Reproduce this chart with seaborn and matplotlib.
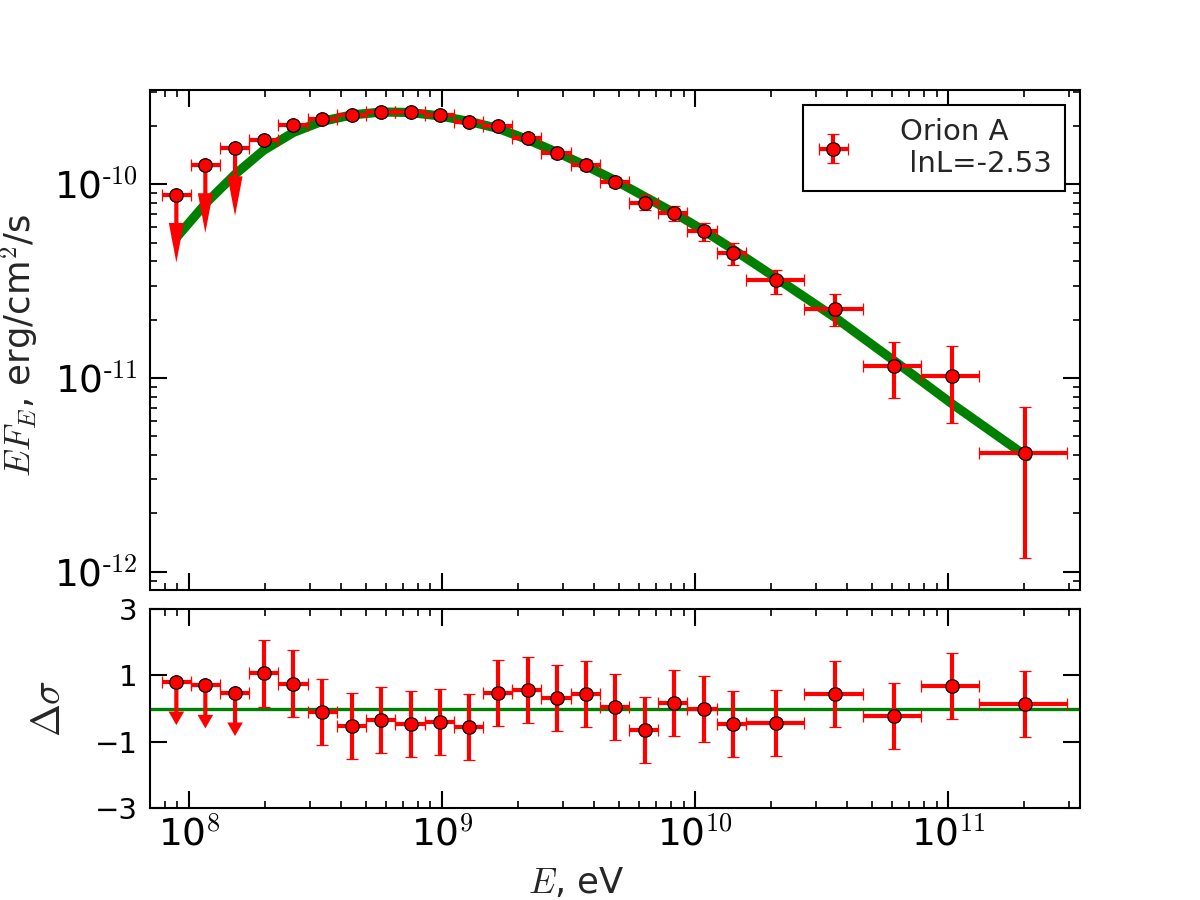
import numpy as np
import pandas as pd
import matplotlib
matplotlib.use("Agg")
import matplotlib.pyplot as plt
import seaborn as sns
from matplotlib.ticker import LogLocator, FixedLocator, NullFormatter, FuncFormatter

# --- data ---
E = [8.91e7, 1.16e8, 1.52e8, 1.97e8, 2.58e8, 3.36e8, 4.41e8, 5.75e8, 7.52e8, 9.82e8,
     1.28e9, 1.67e9, 2.18e9, 2.85e9, 3.71e9, 4.83e9, 6.31e9, 8.24e9, 1.08e10, 1.41e10,
     2.09e10, 3.57e10, 6.09e10, 1.04e11, 2.02e11]
bin_edges = [7.80e7, 1.017e8, 1.327e8, 1.731e8, 2.257e8, 2.944e8, 3.840e8, 5.009e8, 6.534e8,
             8.523e8, 1.112e9, 1.450e9, 1.891e9, 2.467e9, 3.218e9, 4.198e9, 5.475e9, 7.142e9,
             9.316e9, 1.215e10, 1.585e10, 2.685e10, 4.592e10, 7.780e10, 1.327e11, 2.958e11]
flux = [8.85e-11, 1.26e-10, 1.54e-10, 1.69e-10, 2.02e-10, 2.17e-10, 2.27e-10, 2.36e-10, 2.35e-10,
        2.28e-10, 2.09e-10, 1.99e-10, 1.73e-10, 1.45e-10, 1.26e-10, 1.03e-10, 8.05e-11, 7.11e-11,
        5.73e-11, 4.43e-11, 3.19e-11, 2.26e-11, 1.16e-11, 1.03e-11, 4.12e-12]
flux_lo = [np.nan, np.nan, np.nan, 1.62e-10, 1.94e-10, 2.08e-10, 2.18e-10, 2.26e-10, 2.25e-10,
           2.19e-10, 1.99e-10, 1.90e-10, 1.65e-10, 1.37e-10, 1.19e-10, 0.967e-10, 7.34e-11, 6.43e-11,
           5.11e-11, 3.82e-11, 2.73e-11, 1.85e-11, 7.89e-12, 5.89e-12, 1.17e-12]
flux_hi = [np.nan, np.nan, np.nan, 1.76e-10, 2.10e-10, 2.26e-10, 2.37e-10, 2.46e-10, 2.45e-10,
           2.38e-10, 2.19e-10, 2.09e-10, 1.81e-10, 1.53e-10, 1.33e-10, 1.097e-10, 8.77e-11, 7.76e-11,
           6.32e-11, 4.98e-11, 3.63e-11, 2.70e-11, 1.53e-11, 1.47e-11, 7.06e-12]
upper_limit = [True, True, True] + [False] * 22
resid = [0.80, 0.70, 0.47, 1.06, 0.75, -0.11, -0.52, -0.34, -0.46, -0.41, -0.56, 0.46, 0.55,
         0.32, 0.44, 0.05, -0.65, 0.16, -0.02, -0.47, -0.44, 0.44, -0.22, 0.68, 0.14]
resid_err = [1.0] * 25

model_E = [8.9e7, 1.175e8, 1.52e8, 1.967e8, 2.584e8, 3.346e8, 4.397e8, 5.778e8, 7.47e8, 9.82e8,
           1.279e9, 1.665e9, 2.168e9, 2.848e9, 3.709e9, 4.83e9, 6.288e9, 8.26e9, 1.076e10,
           1.400e10, 2.109e10, 3.577e10, 6.064e10, 1.037e11, 2.053e11]
model_F = [5.30e-11, 8.08e-11, 1.126e-10, 1.496e-10, 1.853e-10, 2.113e-10, 2.282e-10, 2.364e-10,
           2.350e-10, 2.255e-10, 2.113e-10, 1.944e-10, 1.706e-10, 1.462e-10, 1.246e-10, 1.048e-10,
           8.67e-11, 7.13e-11, 5.79e-11, 4.65e-11, 3.26e-11, 2.05e-11, 1.238e-11, 7.35e-12, 3.92e-12]

legend_label = "Orion A\n lnL=-2.53"

df = pd.DataFrame({"E": E, "lo": bin_edges[:-1], "hi": bin_edges[1:], "F": flux,
                   "Flo": flux_lo, "Fhi": flux_hi, "ul": upper_limit,
                   "res": resid, "rerr": resid_err})
df["xm"] = df["E"] - df["lo"]
df["xp"] = df["hi"] - df["E"]
det = df[~df["ul"]]
ul = df[df["ul"]]

sns.set_style("ticks")
plt.rcParams["font.family"] = ["DejaVu Sans"]
plt.rcParams["mathtext.fontset"] = "cm"


def pow10(v, pos):
    n = int(round(np.log10(v)))
    return r"$\mathdefault{10^{\text{%d}}}$" % n


fig = plt.figure(figsize=(8, 6), dpi=150)
ax1 = fig.add_axes([0.125, 0.3444, 0.775, 0.5556])
ax2 = fig.add_axes([0.125, 0.1022, 0.775, 0.2211], sharex=ax1)

eb = dict(fmt="o", color="red", ecolor="red", mfc="red", mec="black", mew=0.6, ms=6.5,
          elinewidth=2.0, capsize=3, capthick=0.9)

# top panel
ax1.set_xscale("log")
ax1.set_yscale("log")
sns.lineplot(x=model_E, y=model_F, ax=ax1, color="green", lw=4.4, zorder=1)
ax1.errorbar(det["E"], det["F"], xerr=[det["xm"], det["xp"]],
             yerr=[det["F"] - det["Flo"], det["Fhi"] - det["F"]], label=legend_label, zorder=3, **eb)
ax1.errorbar(ul["E"], ul["F"], xerr=[ul["xm"], ul["xp"]], zorder=3, **eb)
for x, y in zip(ul["E"], ul["F"]):
    ax1.annotate("", xy=(x, y * 0.446), xytext=(x, y), zorder=2,
                 arrowprops=dict(facecolor="red", edgecolor="red", lw=0, width=2.0,
                                 headwidth=7.2, headlength=19, shrink=0))
ax1.set_xlim(7.01e7, 3.32e11)
ax1.set_ylim(8.04e-13, 3.07e-10)
ax1.yaxis.set_major_formatter(FuncFormatter(pow10))
ax1.set_ylabel("$EF_E$, erg/cm$^2$/s", fontsize=17)
ax1.yaxis.set_label_coords(-0.118, 0.49)
leg = ax1.legend(loc="upper right", fontsize=14, handlelength=1.2, handletextpad=1.7,
                 borderpad=0.45, fancybox=False, framealpha=1, edgecolor="black",
                 borderaxespad=0.5)
leg.get_frame().set_linewidth(1.0)

# bottom panel
ax2.axhline(0, color="green", lw=1.6, zorder=1)
ax2.errorbar(det["E"], det["res"], xerr=[det["xm"], det["xp"]], yerr=det["rerr"], zorder=3, **eb)
ax2.errorbar(ul["E"], ul["res"], xerr=[ul["xm"], ul["xp"]], zorder=3, **eb)
for x, y in zip(ul["E"], ul["res"]):
    ax2.annotate("", xy=(x, y - 1.3), xytext=(x, y), zorder=2,
                 arrowprops=dict(facecolor="red", edgecolor="red", lw=0, width=2.0,
                                 headwidth=7.5, headlength=6.5, shrink=0))
ax2.set_ylim(-3, 3)
ax2.yaxis.set_major_locator(FixedLocator([-3, -1, 1, 3]))
ax2.set_ylabel(r"$\Delta\sigma$", fontsize=19)
ax2.yaxis.set_label_coords(-0.087, 0.5)
ax2.set_xlabel("$E$, eV", fontsize=17)
ax2.xaxis.set_label_coords(0.458, -0.29)

ax2.xaxis.set_major_locator(LogLocator(base=10, numticks=10))
ax2.xaxis.set_major_formatter(FuncFormatter(pow10))
ax2.xaxis.set_minor_locator(LogLocator(base=10, subs=np.arange(2, 10), numticks=20))
ax2.xaxis.set_minor_formatter(NullFormatter())

for ax in (ax1, ax2):
    for s in ax.spines.values():
        s.set_linewidth(1.0)
        s.set_color("black")
    ax.tick_params(which="both", direction="in", top=True, right=True, colors="black")
    ax.tick_params(which="major", length=8.3, width=1.0)
    ax.tick_params(which="minor", length=3.4, width=0.8)
    ax.tick_params(axis="x", labelsize=18, pad=4)
ax1.tick_params(axis="y", labelsize=18, pad=6)
ax1.tick_params(labelbottom=False)
ax2.tick_params(axis="y", which="minor", left=False, right=False)
ax2.tick_params(axis="y", labelsize=14, pad=6)

fig.savefig("out.png", dpi=150)
